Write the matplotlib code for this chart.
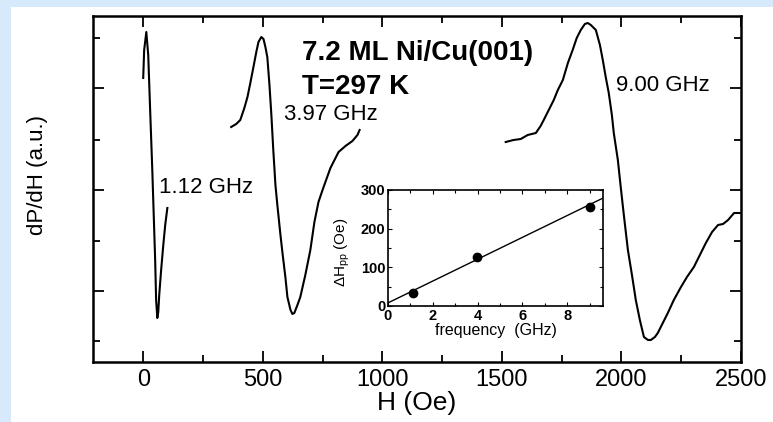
import matplotlib
matplotlib.use("Agg")
import matplotlib.pyplot as plt
from matplotlib.patches import Rectangle
from matplotlib.ticker import MultipleLocator

plt.rcParams['font.family'] = ['Liberation Sans', 'DejaVu Sans']
plt.rcParams['mathtext.fontset'] = 'custom'
plt.rcParams['mathtext.rm'] = 'Liberation Sans'
plt.rcParams['mathtext.it'] = 'Liberation Sans'

# FMR derivative spectra, H in Oe, signal in arbitrary units
h_112 = [0, 4, 13, 21, 29, 38, 42, 50, 54, 59, 63, 67, 75, 84, 92, 101]
s_112 = [284, 312, 330, 307, 252, 192, 162, 102, 62, 44, 50, 67, 92, 117, 137, 154]

h_397 = [368, 389, 406, 423, 436, 448, 461, 473, 482, 494, 503, 511, 519, 528,
         536, 544, 553, 561, 574, 582, 595, 603, 616, 624, 632, 645, 657, 678,
         699, 716, 733, 750, 783, 817, 846, 875, 896, 905]
s_397 = [235, 238, 242, 254, 265, 279, 295, 310, 320, 325, 323, 315, 305, 277,
         247, 212, 177, 157, 127, 110, 84, 65, 52, 48, 49, 57, 65, 87,
         112, 140, 160, 172, 194, 210, 216, 221, 227, 232]

h_900 = [1516, 1549, 1579, 1608, 1642, 1662, 1675, 1696, 1717, 1734, 1755, 1776,
         1796, 1813, 1830, 1847, 1859, 1872, 1893, 1910, 1922, 1935, 1947, 1960,
         1968, 1985, 1997, 2010, 2027, 2044, 2060, 2077, 2094, 2111, 2123, 2140,
         2152, 2173, 2194, 2219, 2249, 2274, 2303, 2328, 2353, 2379, 2404, 2425,
         2446, 2471, 2500]
s_900 = [220, 222, 223, 227, 229, 236, 242, 252, 262, 272, 282, 299,
         312, 324, 332, 338, 339, 337, 332, 317, 302, 284, 269, 247,
         229, 202, 175, 147, 112, 87, 62, 42, 25, 22, 22, 25,
         29, 39, 49, 62, 75, 85, 95, 107, 119, 130, 137, 138,
         142, 149, 149]

# inset: linewidth vs frequency
freq = [1.12, 3.97, 9.0]
dhpp = [34, 127, 256]
dhpp_err = [6, 8, 9]
fit_f = [0, 9.6]
fit_dh = [8, 279]

fig = plt.figure(figsize=(7.73, 4.22), dpi=100, facecolor='#d6eafb')
fig.patches.append(Rectangle((11 / 773, 0), 1, 415 / 422, transform=fig.transFigure,
                             facecolor='white', edgecolor='none', zorder=-10))

ax = fig.add_axes([0.1203, 0.1422, 0.8383, 0.8199])
ax.plot(h_112, s_112, color='black', lw=1.5)
ax.plot(h_397, s_397, color='black', lw=1.5)
ax.plot(h_900, s_900, color='black', lw=1.5)
ax.set_xlim(-210, 2500)
ax.set_ylim(0, 346)
ax.xaxis.set_major_locator(MultipleLocator(500))
ax.xaxis.set_minor_locator(MultipleLocator(250))
ax.set_yticks([71, 172, 274])
ax.set_yticks([21, 121, 222, 324], minor=True)
ax.set_yticklabels([])
ax.tick_params(which='both', direction='in', top=True, right=True, width=1.3)
ax.tick_params(which='major', length=8, labelsize=17, pad=5)
ax.tick_params(which='minor', length=5)
for sp in ax.spines.values():
    sp.set_linewidth(1.8)
ax.set_xlabel('H (Oe)', fontsize=19, labelpad=0)
ax.set_ylabel('dP/dH (a.u.)', fontsize=16)
ax.yaxis.set_label_coords(-0.069, 0.54)

ax.text(666, 309, '7.2 ML Ni/Cu(001)', fontsize=20, fontweight='bold', va='center')
ax.text(666, 275, 'T=297 K', fontsize=20, fontweight='bold', va='center')
ax.text(67, 174, '1.12 GHz', fontsize=16, va='center')
ax.text(590, 247, '3.97 GHz', fontsize=16, va='center')
ax.text(1977, 276, '9.00 GHz', fontsize=16, va='center')

ins = fig.add_axes([0.5019, 0.2749, 0.2781, 0.2749])
ins.plot(fit_f, fit_dh, color='black', lw=1)
ins.errorbar(freq, dhpp, yerr=dhpp_err, fmt='o', color='black', ms=6,
             capsize=2, elinewidth=1)
ins.set_xlim(0, 9.6)
ins.set_ylim(0, 300)
ins.xaxis.set_major_locator(MultipleLocator(2))
ins.xaxis.set_minor_locator(MultipleLocator(1))
ins.yaxis.set_major_locator(MultipleLocator(100))
ins.yaxis.set_minor_locator(MultipleLocator(50))
ins.tick_params(which='both', direction='in', top=True, right=True, width=0.8)
ins.tick_params(which='major', length=3, labelsize=10.5, pad=2)
ins.tick_params(which='minor', length=2)
for lbl in ins.get_xticklabels() + ins.get_yticklabels():
    lbl.set_fontweight('bold')
for sp in ins.spines.values():
    sp.set_linewidth(1.2)
ins.set_xlabel('frequency  (GHz)', fontsize=11.5, labelpad=0)
ins.set_ylabel(r'$\Delta$H$_{\rm pp}$ (Oe)', fontsize=11)
ins.yaxis.set_label_coords(-0.165, 0.46)

fig.savefig('out.png', dpi=100, facecolor=fig.get_facecolor())
